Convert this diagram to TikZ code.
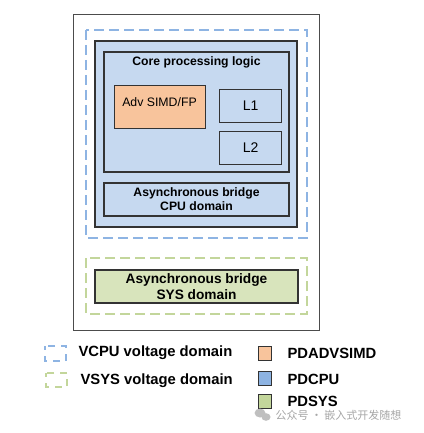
\documentclass[tikz,border=0pt]{standalone}
\usepackage{fontspec}
\setmainfont{Liberation Sans}
\newfontfamily\cjkfont{Noto Sans CJK SC}
\definecolor{cpufill}{HTML}{C6D9F0}
\definecolor{simdfill}{HTML}{F8C49C}
\definecolor{sysfill}{HTML}{D8E4BC}
\definecolor{vcpudash}{HTML}{8EB4E3}
\definecolor{vsysdash}{HTML}{C3D69B}
\definecolor{legblue}{HTML}{8DB3E2}
\definecolor{leggreen}{HTML}{C3D69B}
\definecolor{edge}{HTML}{333333}
\begin{document}
\begin{tikzpicture}[x=1pt,y=-1pt,
  box/.style={draw=edge,line width=1.2pt},
  vdash/.style={line width=2pt,dash pattern=on 10pt off 5pt},
  lbl/.style={font=\bfseries\fontsize{12.2}{14}\selectfont,align=center,text=black},
  leg/.style={font=\bfseries\fontsize{14.8}{16}\selectfont,anchor=west,text=black},
  legsq/.style={draw=edge,line width=1pt,minimum width=13pt,minimum height=14pt,inner sep=0pt}]
\useasboundingbox (0,0) rectangle (423,433);
% outer
\draw[draw=black!70,line width=1pt] (73,15) rectangle (319,330);
% VCPU domain
\draw[vcpudash,vdash] (86,30) rectangle (307,238);
\draw[box,fill=cpufill] (95,41) rectangle (297,227);
\draw[box] (104,52) rectangle (289,172);
\node[lbl] (core) at (196.5,62) {Core processing logic};
\node[box,fill=simdfill,minimum width=91pt,minimum height=43pt,anchor=north west] (simd) at (114,85) {};
\node[font=\fontsize{12.3}{14}\selectfont] (simdt) at (159.5,102) {Adv SIMD/FP};
\node[box,minimum width=62pt,minimum height=33pt,anchor=north west,inner sep=0pt,
  font=\fontsize{14}{15}\selectfont] (l1) at (219,89) {L1};
\node[box,minimum width=62pt,minimum height=33pt,anchor=north west,inner sep=0pt,
  font=\fontsize{14}{15}\selectfont] (l2) at (219,131) {L2};
\draw[box] (104,183) rectangle (289,216);
\node[lbl] (cpub) at (196.5,199.5) {Asynchronous bridge\\CPU domain};
% VSYS domain
\draw[vsysdash,vdash] (86,258) rectangle (307,314);
\draw[box,fill=sysfill] (95,270) rectangle (298,303);
\node[lbl,font=\bfseries\fontsize{13.7}{16}\selectfont] (sysb) at (196.5,286.5) {Asynchronous bridge\\SYS domain};
% legend
\draw[vcpudash,line width=2pt,dash pattern=on 7pt off 6pt,dash phase=3pt] (45,346) rectangle (66,361);
\draw[vsysdash,line width=2pt,dash pattern=on 7pt off 6pt,dash phase=3pt] (46,373) rectangle (67,387);
\node[leg] (lv1) at (75,353) {VCPU voltage domain};
\node[leg] (lv2) at (77,381) {VSYS voltage domain};
\node[legsq,fill=simdfill] (s1) at (264.5,353.5) {};
\node[legsq,fill=legblue] (s2) at (264.5,378.5) {};
\node[legsq,fill=leggreen] (s3) at (264.5,401.5) {};
\node[leg] (p1) at (284,353) {PDADVSIMD};
\node[leg] (p2) at (284,379) {PDCPU};
\node[leg] (p3) at (284,401) {PDSYS};
% watermark
\fill[black!25] (260,413) ellipse (5.5pt and 4.5pt);
\fill[black!25] (266,417) ellipse (4.5pt and 3.8pt);
\node[anchor=west,text=black!35,font=\cjkfont\fontsize{11}{12}\selectfont] (wm) at (272,415) {公众号 · 嵌入式开发随想};
\end{tikzpicture}
\end{document}
